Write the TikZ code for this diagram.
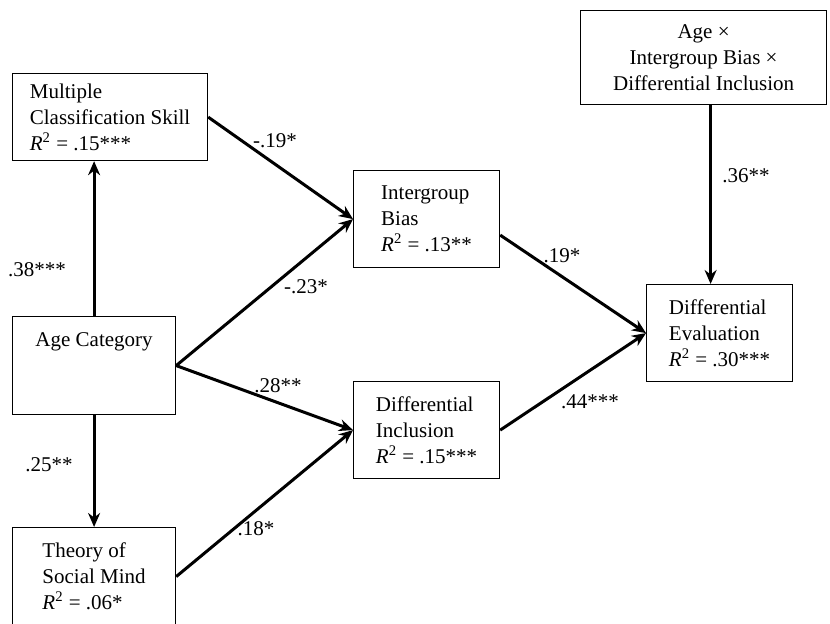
\documentclass[tikz,border=0pt]{standalone}
\usepackage{fontspec}
\setmainfont{Liberation Serif}
\usetikzlibrary{arrows.meta}

\newcommand{\rsq}{\textit{R}\textsuperscript{2}}

\tikzset{
  var/.style={draw, line width=0.6pt, anchor=north west, align=left, inner sep=0pt},
  effect/.style={line width=1.5pt, -{Stealth[length=7pt,width=6pt]}},
  coef/.style={inner sep=0pt},
}

\begin{document}
\begin{tikzpicture}[x=0.5pt, y=-0.5pt, font=\fontsize{10.5}{13}\selectfont]
  \useasboundingbox (0,0) rectangle (830,624);
  % variables
  \node[var, minimum width=97.5pt, minimum height=43.5pt] (mcs) at (12,73)
    {Multiple\\Classification Skill\\\rsq{} = .15***};
  \node[var, minimum width=81.5pt, minimum height=49pt, text depth=26pt] (ac) at (12,316)
    {Age Category};
  \node[var, minimum width=81.5pt, minimum height=49pt] (tsm) at (12,527)
    {Theory of\\Social Mind\\\rsq{} = .06*};
  \node[var, minimum width=73pt, minimum height=48.5pt] (ib) at (353,170)
    {Intergroup\\Bias\\\rsq{} = .13**};
  \node[var, minimum width=73pt, minimum height=48.5pt] (di) at (353,381)
    {Differential\\Inclusion\\\rsq{} = .15***};
  \node[var, minimum width=73pt, minimum height=48.5pt] (de) at (646,284)
    {Differential\\Evaluation\\\rsq{} = .30***};
  \node[var, align=center, minimum width=123pt, minimum height=47pt] (agex) at (580,10)
    {Age ×\\Intergroup Bias ×\\Differential Inclusion};
  \coordinate (top) at ([xshift=3.5pt]agex.south);
  % paths
  \draw[effect] (ac.north) -- (ac.north |- mcs.south);
  \draw[effect] (ac.south) -- (tsm.north);
  \draw[effect] (mcs.east) -- (ib.west);
  \draw[effect] (ac.east) -- (ib.west);
  \draw[effect] (ac.east) -- (di.west);
  \draw[effect] (tsm.east) -- (di.west);
  \draw[effect] ([yshift=-8pt]ib.east) -- (de.west);
  \draw[effect] (di.east) -- (de.west);
  \draw[effect] (top) -- (top |- de.north);
  % coefficients
  \node[coef] (b1) at (37,270) {.38***};
  \node[coef] (b2) at (49,465) {.25**};
  \node[coef] (b3) at (275,141) {-.19*};
  \node[coef] (b4) at (306,287) {-.23*};
  \node[coef] (b5) at (278,386) {.28**};
  \node[coef] (b6) at (256,529) {.18*};
  \node[coef] (b7) at (562,256) {.19*};
  \node[coef] (b8) at (590,402) {.44***};
  \node[coef] (b9) at (746,176) {.36**};
\end{tikzpicture}
\end{document}
